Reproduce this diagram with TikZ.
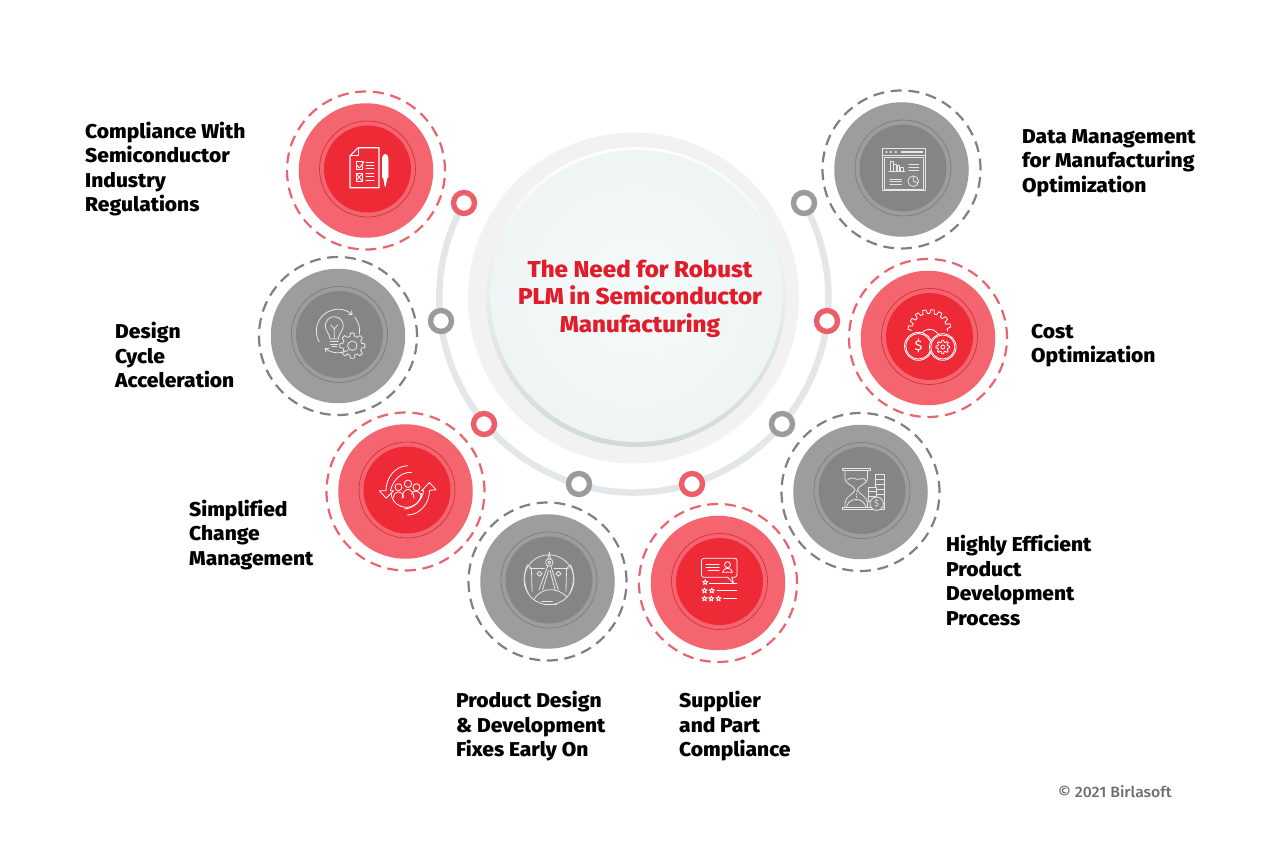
\documentclass[tikz,border=0pt]{standalone}
\usepackage{fontspec}
\setmainfont{Fira Sans}[BoldFont={Fira Sans ExtraBold},FakeStretch=1.05,Ligatures=NoCommon]
\newfontfamily\medfont{Fira Sans Medium}[FakeStretch=1.05]
\usetikzlibrary{arrows.meta}
\definecolor{rdA}{HTML}{F4656F}
\definecolor{rdB}{HTML}{EE2A36}
\definecolor{rdL}{HTML}{CF2A3A}
\definecolor{rdD}{HTML}{E8646F}
\definecolor{gyA}{HTML}{9D9D9F}
\definecolor{gyB}{HTML}{858587}
\definecolor{gyL}{HTML}{77777A}
\definecolor{gyD}{HTML}{808083}
\definecolor{arcC}{HTML}{E4E7EA}
\definecolor{rimO}{HTML}{F2F2F2}
\definecolor{rimD}{HTML}{D2DAD7}
\definecolor{faceC}{HTML}{F5FBFB}
\definecolor{faceO}{HTML}{E9EDEE}
\definecolor{dotR}{HTML}{EC5F69}
\definecolor{dotG}{HTML}{9B9B9E}
\definecolor{titleC}{HTML}{E21D2B}
\definecolor{copyC}{HTML}{6D6E71}
\definecolor{icoG}{HTML}{E6E6E6}
\pgfdeclareradialshading{hubface}{\pgfpoint{0bp}{0bp}}{color(0bp)=(faceC); color(50bp)=(faceO); color(100bp)=(faceO)}
\pgfdeclareradialshading{dotface}{\pgfpoint{0bp}{0bp}}{color(0bp)=(white); color(30bp)=(white); color(50bp)=(faceO); color(100bp)=(faceO)}
\tikzset{
  x=1pt,y=-1pt,
  lab/.style={anchor=north west,inner sep=0pt,align=left,font=\fontsize{20}{24.5}\selectfont\bfseries},
  dotn/.style={circle,inner sep=0pt,minimum size=21pt,line width=5.4pt,draw=#1,shading=dotface},
  icr/.style={draw=white,line width=.8pt,line cap=round,line join=round},
  icg/.style={draw=icoG,line width=.8pt,line cap=round,line join=round},
  ic/.style={icr},
  head/.style={-{Straight Barb[length=3pt,width=5pt]}}
}
\newcommand\badge[4]{%
  \node[circle,inner sep=0pt,minimum size=158pt,draw=#4D,line width=2.2pt,dash pattern=on 11pt off 6.7pt] (#1dash) at (#2,#3) {};
  \node[circle,inner sep=0pt,minimum size=134.5pt,fill=#4A] (#1disc) at (#2,#3) {};
  \node[circle,inner sep=0pt,minimum size=96pt,draw=#4L,line width=.6pt] (#1ring) at (#2+1.5,#3-1.5) {};
  \node[circle,inner sep=0pt,minimum size=87pt,fill=#4B] (#1core) at (#2+1.5,#3-1.5) {};
}
\newcommand\gearcog[5]{%
  \begin{scope}[shift={(#1,#2)}]
  \pgfmathsetmacro\stepA{360/#5}
  \foreach \k in {1,...,#5}{
    \pgfmathsetmacro\aa{\k*\stepA}
    \draw[ic] ({\aa-.32*\stepA}:#4) -- ({\aa-.18*\stepA}:#3) -- ({\aa+.18*\stepA}:#3) -- ({\aa+.32*\stepA}:#4) -- ({\aa+.68*\stepA}:#4);
  }
  \end{scope}
}
\def\starpath{(-90:2.8)--(-54:1.1)--(-18:2.8)--(18:1.1)--(54:2.8)--(90:1.1)--(126:2.8)--(162:1.1)--(198:2.8)--(234:1.1)--cycle}
\newcommand\fl{\vphantom{Ag}}
\begin{document}
\begin{tikzpicture}
\useasboundingbox (0,0) rectangle (1280,853);
\fill[white] (0,0) rectangle (1280,853);
% central disc
\node[circle,inner sep=0pt,minimum size=331pt,fill=rimO] (hubO) at (633.5,298) {};
\node[circle,inner sep=0pt,minimum size=300pt,top color=white,bottom color=rimD] (hubR) at (636,297) {};
\node[circle,inner sep=0pt,minimum size=292pt,shading=hubface] (hubF) at (636.5,296) {};
% arc
\coordinate (arcS) at (464,203);
\draw[arcC,line width=6.5pt] (arcS) arc[start angle=150.8,end angle=389.2,radius=194.6pt];
% dots
\node[dotn=dotR] (d1) at (464,203) {};
\node[dotn=dotG] (d2) at (441,321) {};
\node[dotn=dotR] (d3) at (484,424) {};
\node[dotn=dotG] (d4) at (579,484) {};
\node[dotn=dotR] (d5) at (692,484) {};
\node[dotn=dotG] (d6) at (782,424) {};
\node[dotn=dotR] (d7) at (827,321) {};
\node[dotn=dotG] (d8) at (804,203) {};
% badges
\badge{a}{366}{170.5}{rd}
\badge{b}{901.5}{169.5}{gy}
\badge{c}{338}{336}{gy}
\badge{e}{928}{338}{rd}
\badge{f}{405.5}{491.5}{rd}
\badge{g}{860.5}{492}{gy}
\badge{h}{547.5}{581.5}{gy}
\badge{i}{718}{583}{rd}
% icon: checklist
\begin{scope}[shift={(366,170.5)}]
\draw[ic,line width=1.1pt] (-8,-22.7) -- (13,-22.7) -- (13,17.3) -- (-16,17.3) -- (-16,-14.7) -- cycle;
\draw[ic] (-8,-22.7) -- (-8,-14.7) -- (-16,-14.7);
\draw[ic] (-10,-8.7) rectangle (-3.3,-1);
\draw[ic] (-10,3) rectangle (-3.3,10.7);
\draw[ic] (-9,-5) -- (-6.5,-2.5) -- (-2,-9);
\draw[ic] (-9.5,3.5) -- (-4,10); \draw[ic] (-4,3.5) -- (-9.5,10);
\foreach \yy in {-8,-5,-2,3,6.3,9.7}{\draw[ic] (0,\yy) -- (8,\yy);}
\draw[ic,fill=white] (16.5,-11) .. controls (16.5,-18) and (22,-18) .. (22,-11) -- (22,7) -- (16.5,7) -- cycle;
\draw[ic,fill=white] (17.5,7) -- (21,7) -- (19.2,16) -- cycle;
\end{scope}
% icon: dashboard
\begin{scope}[shift={(901.5,169.5)},ic/.style={icg}]
\draw[ic] (-19.3,-21) rectangle (23.7,21.3);
\draw[ic] (-19.3,-14.3) -- (23.7,-14.3);
\foreach \xx in {-15,-10.7,-5.7}{\fill[icoG] (\xx,-17.5) circle[radius=1.2pt];}
\fill[icoG] (-.7,-18.4) rectangle (21,-16);
\draw[ic] (-17.2,-12) rectangle (21.7,19.5);
\draw[ic] (-12.7,1.7) -- (3.3,1.7);
\draw[ic] (-11,1.7) -- (-11,-7.7) -- (-8.3,-7.7) -- (-8.3,1.7);
\draw[ic] (-7.7,1.7) -- (-7.7,-5.3) -- (-5,-5.3) -- (-5,1.7);
\draw[ic] (-4,1.7) -- (-4,-3.7) -- (-1.7,-3.7) -- (-1.7,1.7);
\draw[ic] (-.7,1.7) -- (-.7,-1.7) -- (1.7,-1.7) -- (1.7,1.7);
\foreach \yy in {-5,-2,1}{\draw[ic] (7.3,\yy) -- (17.3,\yy);}
\foreach \yy in {9.7,12.3,15}{\draw[ic] (-11.7,\yy) -- (0,\yy);}
\draw[ic] (11.7,11.7) circle[radius=5.3pt];
\draw[ic] (11.7,6.4) -- (11.7,11.7) -- (16.5,13.5);
\end{scope}
% icon: bulb and gear
\begin{scope}[shift={(338,336)},ic/.style={icg}]
\draw[ic] (-8,3) .. controls (-8,-2) and (-12.7,-5) .. (-12.7,-10.3) arc[start angle=180,end angle=0,radius=9pt] .. controls (5.3,-5) and (.3,-2) .. (.3,3) -- cycle;
\draw[ic] (-3.7,3) -- (-3.7,-7) -- (-7,-11); \draw[ic] (-3.7,-7) -- (-.5,-11);
\draw[ic] (-8,5.5) -- (.3,5.5); \draw[ic] (-7.5,8) -- (-.2,8); \draw[ic] (-6,10.5) -- (-1.5,10.5);
\gearcog{14.3}{9.7}{12.7}{9.7}{8}
\draw[ic] (14.3,9.7) circle[radius=4.7pt];
\draw[ic,head] (0,-5) ++(150:21.7) arc[start angle=-150,end angle=-312,radius=21.7pt];
\draw[ic] (0,-5) ++(320:21.7) arc[start angle=-320,end angle=-368,radius=21.7pt];
\draw[ic,head] (0,-5) ++(62:21.7) arc[start angle=-62,end angle=-128,radius=21.7pt];
\end{scope}
% icon: gear and coins
\begin{scope}[shift={(928,338)}]
\begin{scope}[shift={(1.5,-6.7)}]
\foreach \aa in {190,212,...,350}{
  \draw[ic] ({\aa-7}:18) -- ({\aa-4.5}:21.7) -- ({\aa+4.5}:21.7) -- ({\aa+7}:18) -- ({\aa+15}:18);
}
\draw[ic] (-10,8) arc[start angle=180,end angle=0,radius=10pt];
\draw[ic] (-18,3) -- (-18,10); \draw[ic] (18,3) -- (18,10);
\end{scope}
\draw[ic,fill=rdB] (-9.5,8.3) circle[radius=14pt];
\draw[ic] (-9.5,8.3) circle[radius=12.7pt];
\draw[ic,fill=rdB] (14.8,9) circle[radius=13.3pt];
\draw[ic] (14.8,9) circle[radius=12pt];
\node[text=white,inner sep=0pt,font=\fontsize{14}{14}\selectfont] (dollarA) at (-9.5,8.3) {\$};
\gearcog{14.8}{9}{6.8}{5}{8}
\draw[ic] (14.8,9) circle[radius=2pt];
\end{scope}
% icon: people and arrows
\begin{scope}[shift={(405.5,491.5)}]
\draw[ic] (-7,-4.3) circle[radius=3.5pt];
\draw[ic] (2.5,-7.7) circle[radius=3.7pt];
\draw[ic] (11,-4.3) circle[radius=3.5pt];
\draw[ic] (-12,6) .. controls (-12,-1.5) and (-2,-1.5) .. (-2,6);
\draw[ic] (-3.5,7) .. controls (-3,-5) and (8,-5) .. (8.5,7);
\draw[ic] (6,3) .. controls (7,-2) and (15,-2) .. (16,6);
\draw[ic] (-14.5,2) .. controls (-12,20) and (13,21) .. (16,2);
\draw[ic] (2,-25.7) .. controls (-10,-25.7) and (-19.5,-14) .. (-19.5,-1);
\draw[ic] (6,-19) .. controls (-5,-20) and (-13,-10) .. (-15,-1);
\draw[ic] (-15,-.7) -- (-12,-.7) -- (-19.5,6.7) -- (-26,-.7) -- (-19.5,-.7);
\draw[ic] (2,23.5) .. controls (14,23.5) and (24,12) .. (24,-.7);
\draw[ic] (-1,17.5) .. controls (8,17) and (17,9) .. (18,-.7);
\draw[ic] (18,-.7) -- (16,-.7) -- (24,-9) -- (30.5,-1.7) -- (24,-1.2);
\end{scope}
% icon: hourglass and coins
\begin{scope}[shift={(860.5,492)},ic/.style={icg}]
\draw[ic] (-18.5,-24) rectangle (9.5,-21.3);
\draw[ic] (-18.5,15) rectangle (23.5,17.3);
\draw[ic] (-15.5,-21.3) -- (-15.5,-14) .. controls (-15.5,-7) and (-6,-7) .. (-5.5,-2.3) .. controls (-6,2) and (-15.5,4) .. (-15.5,11) -- (-15.5,15);
\draw[ic] (7,-21.3) -- (7,-14) .. controls (7,-7) and (-2.5,-7) .. (-3,-2.3) .. controls (-2.5,2) and (7,4) .. (7,11) -- (7,15);
\draw[ic] (-13,-12) .. controls (-8,-17) and (-5,-11) .. (0,-13) .. controls (3,-14) and (5,-13) .. (5.5,-11);
\draw[ic] (-14,15) .. controls (-12,5) and (3,5) .. (5.5,15);
\draw[ic,dotted] (-4.2,-1) -- (-4.2,8);
\draw[ic] (14.5,-17.3) rectangle (23.5,15);
\foreach \yy in {-12.3,-7.3,-2.3,2.7}{\draw[ic] (14.5,\yy) -- (23.5,\yy);}
\draw[ic,fill=gyB] (7.8,-5) rectangle (15.5,9);
\foreach \yy in {-.5,4}{\draw[ic] (7.8,\yy) -- (15.5,\yy);}
\draw[ic,fill=gyB] (16.2,11.7) circle[radius=6.7pt];
\node[text=icoG,inner sep=0pt,font=\fontsize{8.5}{8.5}\selectfont] (dollarB) at (16.2,11.7) {\$};
\end{scope}
% icon: compass
\begin{scope}[shift={(547.5,581.5)},ic/.style={icg}]
\draw[ic] (1.5,-1.7) circle[radius=25pt];
\draw[ic,fill=gyB] (1.8,-19) circle[radius=3.7pt];
\draw[ic] (1.8,-19) circle[radius=1.5pt];
\draw[ic] (1.8,-29) -- (.5,-22.5); \draw[ic] (1.8,-29) -- (3.1,-22.5);
\draw[ic] (-17.5,-13) -- (-3,-13); \draw[ic] (6.5,-13) -- (20.8,-13);
\draw[ic] (.3,-15.5) -- (-8.5,8.3); \draw[ic] (3.3,-15.5) -- (10.8,8.3);
\draw[ic] (1,-11) -- (-5,8.3); \draw[ic] (2.6,-11) -- (7.5,8.3);
\draw[ic] (-20,-16.5) .. controls (-24,-10) and (-24,4) .. (-19,12);
\draw[ic] (-20,-16.5) -- (-16,-13) -- (-15.5,10);
\draw[ic] (23,-16.5) .. controls (27,-10) and (27,4) .. (22,12);
\draw[ic] (23,-16.5) -- (19,-13) -- (18.5,10);
\draw[ic] (-13.5,17.5) .. controls (-5,5) and (10,6) .. (19,15);
\draw[ic] (-10.5,-7.7) -- (-8,-10.2) -- (-5.5,-7.7) -- (-8,-5.2) -- cycle;
\draw[ic] (8.5,-7.7) -- (11,-10.2) -- (13.5,-7.7) -- (11,-5.2) -- cycle;
\draw[ic,line width=.5pt] (-6,20) -- (5,20); \draw[ic,line width=.5pt] (-1,22.5) -- (9,22.5);
\end{scope}
% icon: review
\begin{scope}[shift={(718,583)}]
\draw[ic,rounded corners=2.5pt] (9.5,-5.7) -- (-16.5,-5.7) -- (-16.5,-24.7) -- (19,-24.7) -- (19,-5.7) -- (13.8,-5.7);
\draw[ic] (9.5,-5.7) -- (15.5,0) -- (13.8,-5.7);
\foreach \yy in {-18.3,-15.3}{\draw[ic] (-12,\yy) -- (1.2,\yy);}
\draw[ic] (-10,-12.3) -- (1.2,-12.3);
\draw[ic] (9.5,-18.3) circle[radius=3pt];
\draw[ic] (4.5,-10.7) .. controls (5,-16) and (14,-16) .. (14.5,-10.7) -- cycle;
\draw[ic,shift={(-12.8,-.7)}] \starpath;
\draw[ic,shift={(-13.5,7.7)}] \starpath;
\draw[ic,shift={(-6.2,7.7)}] \starpath;
\draw[ic,shift={(-13.5,15.7)}] \starpath;
\draw[ic,shift={(-6.8,15.7)}] \starpath;
\draw[ic,shift={(.5,15.7)}] \starpath;
\draw[ic] (-8.8,0) -- (19,0);
\draw[ic] (-1,7.3) -- (19,7.3);
\draw[ic] (5.5,15) -- (19,15);
\end{scope}
% texts
\node[inner sep=0pt,align=center,text=titleC,font=\fontsize{23}{27.5}\selectfont\bfseries] (title) at (640,298.5) {The Need for Robust\\PLM in Semiconductor\\Manufacturing};
\node[lab] (t1) at (85,121.5) {\fl Compliance With\\Semiconductor\\Industry\\Regulations};
\node[lab] (t2) at (1022,129) {\fl Data Management\\for Manufacturing\\Optimization};
\node[lab] (t3) at (115,322) {\fl Design\\Cycle\\Acceleration};
\node[lab] (t4) at (1031,324) {\fl Cost\\Optimization};
\node[lab] (t5) at (189,499.5) {\fl Simplified\\Change\\Management};
\node[lab] (t6) at (946,535) {\fl Highly Efficient\\Product\\Development\\Process};
\node[lab] (t7) at (456,691) {\fl Product Design\\\& Development\\Fixes Early On};
\node[lab] (t8) at (679,691) {\fl Supplier\\and Part\\Compliance};
\node[anchor=west,inner sep=0pt,text=copyC,font=\medfont\fontsize{15}{16}\selectfont] (copy) at (1058,792) {© 2021 Birlasoft};
\end{tikzpicture}
\end{document}
